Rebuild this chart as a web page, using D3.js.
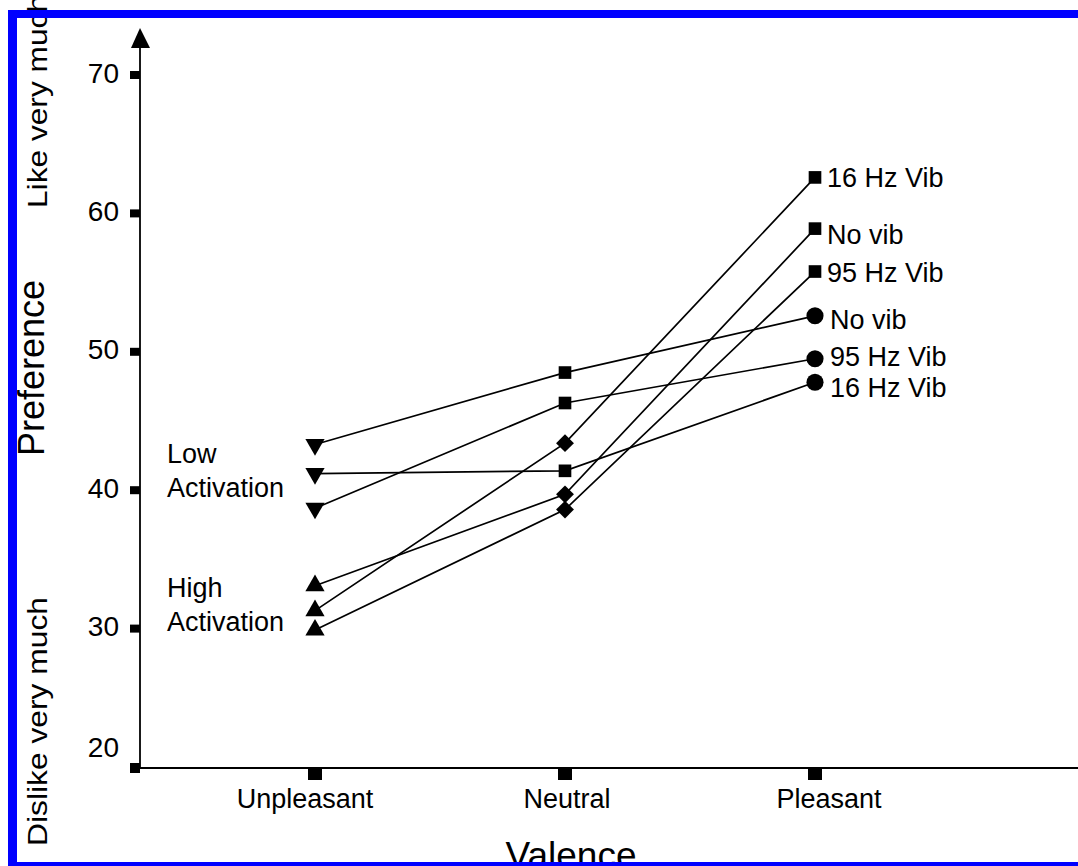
<!DOCTYPE html>
<html>
<head>
<meta charset="utf-8">
<script src="https://cdn.jsdelivr.net/npm/d3@7"></script>
<style>
  html, body { margin: 0; padding: 0; background: #fff; }
  svg { display: block; }
  text { font-family: "Liberation Sans", Arial, Helvetica, sans-serif; fill: #000; }
</style>
</head>
<body>
<svg id="chart" width="1078" height="866"></svg>
<script>
// ---------- data ----------
const categories = ["Unpleasant", "Neutral", "Pleasant"];
const yTicks = [20, 30, 40, 50, 60, 70];

const seriesNames = ["No vib", "95 Hz Vib", "16 Hz Vib", "16 Hz Vib", "No vib", "95 Hz Vib"];
const seriesGroup = ["low", "low", "low", "high", "high", "high"];
const seriesValues = [
  [43.3, 48.5, 52.6],   // low activation, No vib
  [38.7, 46.3, 49.5],   // low activation, 95 Hz Vib
  [41.2, 41.4, 47.8],   // low activation, 16 Hz Vib
  [31.3, 43.4, 62.6],   // high activation, 16 Hz Vib
  [33.1, 39.7, 58.9],   // high activation, No vib
  [29.9, 38.6, 55.8]    // high activation, 95 Hz Vib
];
// marker shape per group at each valence level
const lowMarkers = ["triangleDown", "square", "circle"];
const highMarkers = ["triangleUp", "diamond", "square"];
const groupLabels = { low: ["Low", "Activation"], high: ["High", "Activation"] };

// ---------- layout ----------
const svg = d3.select("#chart");
const x = d3.scalePoint().domain(categories).range([315, 815]);
const y = d3.scaleLinear().domain([20, 70]).range([767, 75]);
const axisX0 = 140;
const axisY0 = y(20) + 1;

// x axis line
svg.append("line").attr("x1", axisX0 - 7).attr("x2", 1078)
  .attr("y1", axisY0).attr("y2", axisY0)
  .attr("stroke", "#000").attr("stroke-width", 1.8);
// y axis line
svg.append("line").attr("x1", axisX0).attr("x2", axisX0)
  .attr("y1", axisY0).attr("y2", 44)
  .attr("stroke", "#000").attr("stroke-width", 1.8);
// arrow head
svg.append("path")
  .attr("d", `M${axisX0},28 L${axisX0 - 9},48 L${axisX0 + 10},48 Z`)
  .attr("fill", "#000");

// y ticks (small black blocks) and labels
const yAxis = svg.append("g");
yAxis.selectAll("rect").data(yTicks).join("rect")
  .attr("x", axisX0 - 10).attr("width", 10)
  .attr("y", d => y(d) - 4)
  .attr("height", d => d === 20 ? 10 : 8)
  .attr("fill", "#000");
yAxis.selectAll("text").data(yTicks).join("text")
  .attr("x", 119)
  .attr("y", d => d === 20 ? y(d) - 20 : y(d) - 2)
  .attr("text-anchor", "end")
  .attr("dominant-baseline", "central")
  .attr("font-size", 28)
  .text(d => d);

// x ticks (black blocks below axis) and labels
const xAxis = svg.append("g");
xAxis.selectAll("rect").data(categories).join("rect")
  .attr("x", d => x(d) - 7).attr("width", 14)
  .attr("y", axisY0).attr("height", 12)
  .attr("fill", "#000");
xAxis.selectAll("text").data(categories).join("text")
  .attr("x", d => x(d) - 10 + categories.indexOf(d) * 12)
  .attr("y", 808)
  .attr("text-anchor", "middle")
  .attr("font-size", 27)
  .text(d => d);

// axis titles
svg.append("text")
  .attr("x", 571).attr("y", 868)
  .attr("text-anchor", "middle")
  .attr("font-size", 37)
  .text("Valence");
svg.append("text")
  .attr("transform", "translate(44,368) rotate(-90)")
  .attr("text-anchor", "middle")
  .attr("font-size", 36)
  .text("Preference");
svg.append("text")
  .attr("transform", "translate(47,208) rotate(-90)")
  .attr("text-anchor", "start")
  .attr("font-size", 27)
  .attr("textLength", 213).attr("lengthAdjust", "spacingAndGlyphs")
  .text("Like very much");
svg.append("text")
  .attr("transform", "translate(47,846) rotate(-90)")
  .attr("text-anchor", "start")
  .attr("font-size", 27)
  .attr("textLength", 249).attr("lengthAdjust", "spacingAndGlyphs")
  .text("Dislike very much");

// ---------- series ----------
const line = d3.line().x((d, i) => x(categories[i])).y(d => y(d));
const symbolFor = {
  square: d3.symbol().type(d3.symbolSquare).size(160),
  diamond: d3.symbol().type(d3.symbolSquare).size(160),
  circle: d3.symbol().type(d3.symbolCircle).size(230),
  triangleUp: d3.symbol().type(d3.symbolTriangle).size(160),
  triangleDown: d3.symbol().type(d3.symbolTriangle).size(160)
};
const rotFor = { square: 0, diamond: 45, circle: 0, triangleUp: 0, triangleDown: 180 };

const series = seriesValues.map((vals, i) => ({
  name: seriesNames[i], group: seriesGroup[i], values: vals,
  markers: seriesGroup[i] === "low" ? lowMarkers : highMarkers
}));

const gSeries = svg.append("g");
gSeries.selectAll("path.line").data(series).join("path")
  .attr("class", "line")
  .attr("d", d => line(d.values))
  .attr("fill", "none").attr("stroke", "#000").attr("stroke-width", 1.7);

series.forEach(s => {
  gSeries.append("g").selectAll("path").data(s.values).join("path")
    .attr("d", (d, i) => symbolFor[s.markers[i]]())
    .attr("transform", (d, i) => `translate(${x(categories[i])},${y(d)}) rotate(${rotFor[s.markers[i]]})`)
    .attr("fill", "#000");
});

// end labels
const labelNudge = [4, -2, 6, 1, 6, 1];
gSeries.selectAll("text.end").data(series).join("text")
  .attr("class", "end")
  .attr("x", d => x(categories[2]) + (d.group === "low" ? 15 : 12))
  .attr("y", (d, i) => y(d.values[2]) + labelNudge[i])
  .attr("dominant-baseline", "central")
  .attr("font-size", 27)
  .text(d => d.name);

// group labels at the Unpleasant end
["low", "high"].forEach(g => {
  const vals = series.filter(s => s.group === g).map(s => s.values[0]);
  const m = d3.mean(vals);
  const t = svg.append("text").attr("x", 167).attr("font-size", 27);
  t.append("tspan").attr("x", 167).attr("y", y(m) - 12).text(groupLabels[g][0]);
  t.append("tspan").attr("x", 167).attr("y", y(m) + 22).text(groupLabels[g][1]);
});

// ---------- blue frame ----------
svg.append("rect").attr("x", 8).attr("y", 10).attr("width", 1070).attr("height", 8).attr("fill", "#0000ff");
svg.append("rect").attr("x", 8).attr("y", 10).attr("width", 9).attr("height", 856).attr("fill", "#0000ff");
svg.append("rect").attr("x", 8).attr("y", 862).attr("width", 1070).attr("height", 4).attr("fill", "#0000ff");
</script>
</body>
</html>
